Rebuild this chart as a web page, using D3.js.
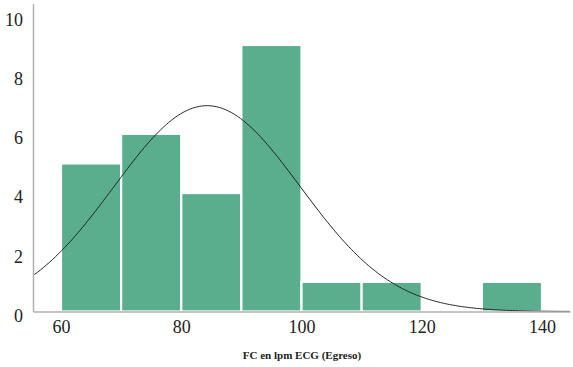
<!DOCTYPE html>
<html><head><meta charset="utf-8">
<script src="https://cdn.jsdelivr.net/npm/d3@7"></script>
</head><body style="margin:0">
<script>
const binStarts = [60, 70, 80, 90, 100, 110, 120, 130];
const binWidth = 10;
const counts = [5, 6, 4, 9, 1, 1, 0, 1];
const xTicks = [60, 80, 100, 120, 140];
const yTicks = [0, 2, 4, 6, 8, 10];
const curveMean = 84.3, curveSD = 15.5, curveN = 27;
const xTitle = "FC en lpm ECG (Egreso)";
const SERIF = "Liberation Serif";

const W = 573, H = 367;
const svg = d3.select("body").append("svg").attr("width", W).attr("height", H)
  .style("font-family", SERIF).attr("font-family", SERIF);
const x = d3.scaleLinear().domain([55.34, 144.66]).range([33, 570]);
const y = d3.scaleLinear().domain([0, 10.4]).range([311.5, 3.5]);

svg.append("g").selectAll("rect").data(binStarts).join("rect")
  .attr("x", d => x(d)).attr("width", d => x(d + binWidth) - x(d))
  .attr("y", (d, i) => y(counts[i])).attr("height", (d, i) => y(0) - y(counts[i]))
  .attr("fill", "#5aae8e").attr("stroke", "#fff").attr("stroke-width", 2.2);

const pts = d3.range(55.34, 144.7, 0.25).map(v => {
  const z = (v - curveMean) / curveSD;
  return [v, curveN * binWidth / (curveSD * Math.sqrt(2 * Math.PI)) * Math.exp(-0.5 * z * z)];
});
svg.append("path").datum(pts)
  .attr("d", d3.line().x(d => x(d[0])).y(d => y(d[1])))
  .attr("fill", "none").attr("stroke", "#222").attr("stroke-width", 1);

const xa = svg.append("g").attr("transform", `translate(0,${y(0)})`)
  .call(d3.axisBottom(x).tickValues(xTicks).tickSize(0).tickPadding(9));
const ya = svg.append("g").attr("transform", `translate(${x.range()[0]},0)`)
  .call(d3.axisLeft(y).tickValues(yTicks).tickSize(0).tickPadding(10));
[xa, ya].forEach(g => {
  g.attr("font-family", SERIF).attr("font-size", 18);
  g.select(".domain").attr("stroke", "#b0b0b0").attr("stroke-width", 1.5);
  g.selectAll("text").attr("font-family", SERIF).style("font-family", SERIF).attr("fill", "#222");
});
ya.selectAll("text").attr("dy", "0.55em");

svg.append("text").attr("x", 302).attr("y", 359).attr("text-anchor", "middle")
  .attr("font-family", SERIF).style("font-family", SERIF)
  .attr("font-weight", "bold").attr("font-size", 11).attr("fill", "#222")
  .text(xTitle);
</script>
</body></html>
